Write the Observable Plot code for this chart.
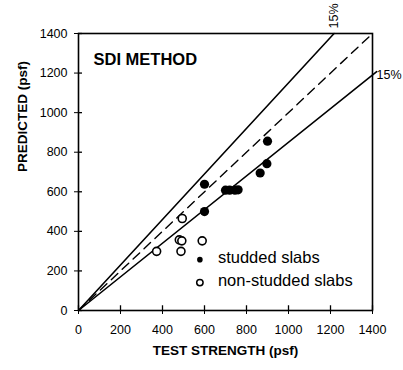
<!DOCTYPE html>
<html>
<head>
<meta charset="utf-8">
<script src="https://cdn.jsdelivr.net/npm/d3@7"></script>
<script src="https://cdn.jsdelivr.net/npm/@observablehq/plot@0.6"></script>
<style>
  body { margin: 0; background: #fff; }
  #chart svg { display: block; }
  #chart svg g[aria-label*="axis"] text, #chart svg g[aria-label*="axis"] { font-size: 12.5px !important; }
</style>
</head>
<body>
<div id="chart"></div>
<script>
// Studded slabs (filled): test strength vs predicted (psf)
const studdedX = [600, 600, 700, 720, 745, 760, 865, 897, 900];
const studdedY = [638, 500, 608, 608, 608, 610, 695, 742, 856];
// Non-studded slabs (open)
const nonStuddedX = [372, 480, 492, 488, 494, 589];
const nonStuddedY = [299, 357, 352, 299, 465, 352];
// Reference lines: +15% (upper), equality (dashed), -15% (lower)
const upperLineX = [0, 1217];
const upperLineY = [0, 1400];
const equalLineX = [0, 1400];
const equalLineY = [0, 1400];
const lowerLineX = [0, 1420];
const lowerLineY = [0, 1207];
// Axis ticks
const xTicks = [0, 200, 400, 600, 800, 1000, 1200, 1400];
const yTicks = [0, 200, 400, 600, 800, 1000, 1200, 1400];
// Texts
const chartTitle = "SDI METHOD";
const xLabel = "TEST STRENGTH (psf)";
const yLabel = "PREDICTED (psf)";
const bandLabel = "15%";
const legendLabels = ["studded slabs", "non-studded slabs"];
const legendY = [257, 141];
const legendX = 578;

const studded = studdedX.map((x, i) => ({x, y: studdedY[i]}));
const nonStudded = nonStuddedX.map((x, i) => ({x, y: nonStuddedY[i]}));
const toPts = (xs, ys) => xs.map((x, i) => ({x, y: ys[i]}));

const font = "'Liberation Sans', Arial, Helvetica, sans-serif";

const plot = Plot.plot({
  width: 403,
  height: 370,
  marginLeft: 78,
  marginRight: 31,
  marginTop: 33,
  marginBottom: 60,
  style: {fontFamily: font, fontSize: "12.5px", color: "#000", background: "#fff"},
  x: {domain: [0, 1400], ticks: xTicks, tickSize: 4, tickPadding: 11, label: null, tickFormat: d => String(d)},
  y: {domain: [0, 1400], ticks: yTicks, tickSize: 4, tickPadding: 7, label: null, tickFormat: d => String(d)},
  marks: [
    // inner parts of crossing ticks
    Plot.ruleX(xTicks, {x: d => d, y1: 0, y2: 24, stroke: "#000", strokeWidth: 1.3}),
    Plot.ruleY(yTicks, {y: d => d, x1: 0, x2: 19, stroke: "#000", strokeWidth: 1.3}),
    Plot.line(toPts(upperLineX, upperLineY), {x: "x", y: "y", stroke: "#000", strokeWidth: 1.6}),
    Plot.line(toPts(equalLineX, equalLineY), {x: "x", y: "y", stroke: "#000", strokeWidth: 1.4, strokeDasharray: "9,6"}),
    Plot.line(toPts(lowerLineX, lowerLineY), {x: "x", y: "y", stroke: "#000", strokeWidth: 1.6}),
    Plot.dot(nonStudded, {x: "x", y: "y", r: 4, fill: "#fff", stroke: "#000", strokeWidth: 1.6}),
    Plot.dot(studded, {x: "x", y: "y", r: 4.6, fill: "#000", stroke: "none"}),
    Plot.frame({stroke: "#000", strokeWidth: 1.6}),
    // band labels
    Plot.text([bandLabel], {x: upperLineX[1], y: upperLineY[1], text: d => d, rotate: -90, textAnchor: "start", dy: -5, fontSize: 12.5, fill: "#000"}),
    Plot.text([bandLabel], {x: 1400, y: 1190, text: d => d, textAnchor: "start", dx: 4, fontSize: 12.5, fill: "#000"}),
    // title inside plot
    Plot.text([chartTitle], {frameAnchor: "top-left", text: d => d, textAnchor: "start", dx: 15, dy: 20, fontSize: 16.5, fontWeight: "bold", fill: "#000"}),
    // legend
    Plot.dot([0], {x: () => legendX, y: () => legendY[0], r: 2.8, fill: "#000", stroke: "none"}),
    Plot.dot([0], {x: () => legendX, y: () => legendY[1], r: 3.2, fill: "#fff", stroke: "#000", strokeWidth: 1.5}),
    Plot.text(legendLabels, {x: () => legendX, y: (d, i) => legendY[i], text: d => d, textAnchor: "start", dx: 18, dy: -2, fontSize: 16.5, fill: "#000"}),
    // axis titles
    Plot.text([xLabel], {frameAnchor: "bottom", text: d => d, dy: 44, fontSize: 13.5, fontWeight: "bold", fill: "#000"}),
    Plot.text([yLabel], {frameAnchor: "left", text: d => d, rotate: -90, dx: -56, fontSize: 13.5, fontWeight: "bold", fill: "#000"})
  ]
});
document.getElementById("chart").appendChild(plot);
</script>
</body>
</html>
